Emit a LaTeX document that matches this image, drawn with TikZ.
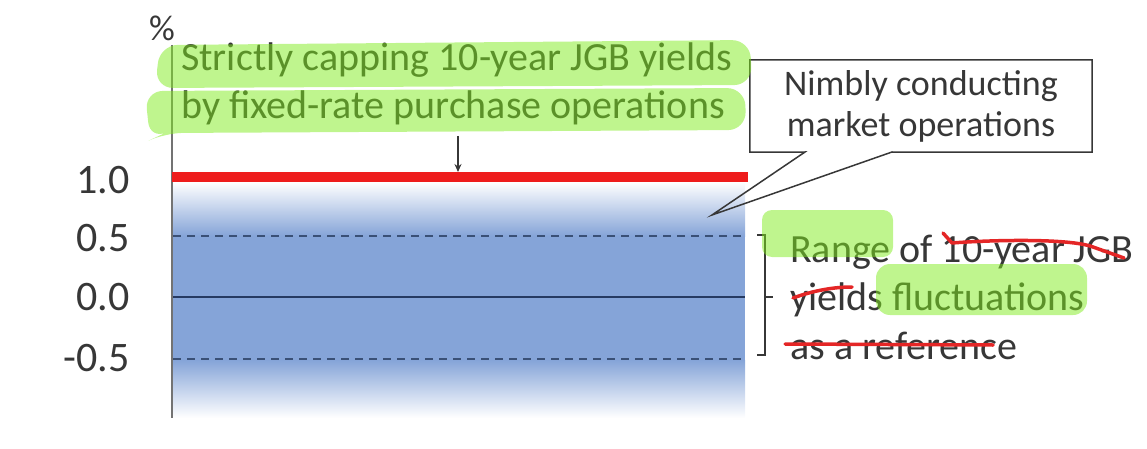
\documentclass[tikz,border=0pt]{standalone}
\usepackage{fontspec}
\setmainfont{Carlito}
\usetikzlibrary{arrows.meta,positioning}
\definecolor{bandblue}{RGB}{133,164,216}
\definecolor{dashblue}{RGB}{58,80,118}
\definecolor{zeroblue}{RGB}{38,58,98}
\definecolor{capred}{RGB}{238,28,28}
\definecolor{txtgray}{RGB}{55,55,55}
\definecolor{hlgreen}{RGB}{127,235,29}
\definecolor{penred}{RGB}{228,38,38}

\begin{document}
\begin{tikzpicture}[x=1pt,y=-1pt,
  lbl/.style={font=\fontsize{42}{46}\selectfont, text=txtgray, anchor=east, inner sep=0pt},
  txt/.style={font=\fontsize{40}{48.5}\selectfont, text=txtgray, align=left, inner sep=0pt},
  grid/.style={dashblue, line width=2.2pt, dash pattern=on 8pt off 6pt},
  hl/.style={fill=hlgreen, fill opacity=0.5, rounded corners=10pt},
  pen/.style={draw=penred, line width=3.5pt, line cap=round, line join=round},
  arr/.style={-{Stealth[length=8pt,width=7pt]}, line width=1.3pt, txtgray}
]
  \useasboundingbox (0,0) rectangle (1147,449);
  % band of yields
  \shade[top color=white, bottom color=bandblue] (173,182) rectangle (745,236);
  \fill[bandblue] (173,236) rectangle (745,360);
  \shade[top color=bandblue, bottom color=white] (173,360) rectangle (745,418);
  \coordinate (p5l) at (173,236);  \coordinate (p5r) at (745,236);
  \coordinate (z0l) at (173,297);  \coordinate (z0r) at (745,297);
  \coordinate (m5l) at (173,359);  \coordinate (m5r) at (745,359);
  \draw[grid] (p5l) -- (p5r);
  \draw[grid] (m5l) -- (m5r);
  \draw[zeroblue, line width=2pt] (z0l) -- (z0r);
  % axis and cap
  \coordinate (axtop) at (172,45);  \coordinate (axbot) at (172,418);
  \draw[black!55, line width=1.5pt] (axtop) -- (axbot);
  \coordinate (capl) at (172,177);  \coordinate (capr) at (748,177);
  \draw[capred, line width=9pt] (capl) -- (capr);
  \node[lbl] (l10) at (130,180) {1.0};
  \node[lbl] (l05) at (130,238) {0.5};
  \node[lbl] (l00) at (130,297) {0.0};
  \node[lbl] (lm05) at (130,358) {-0.5};
  \node[font=\fontsize{36}{38}\selectfont, text=txtgray, inner sep=0pt] (pct) at (162,28) {\%};
  % texts
  \node[txt, anchor=west] (capping) at (181,84) {Strictly capping 10-year JGB yields\\by fixed-rate purchase operations};
  \coordinate (arrtop) at (458,136);  \coordinate (arrend) at (458,172);
  \draw[arr] (arrtop) -- (arrend);
  \node[txt, align=center, font=\fontsize{36}{41}\selectfont, minimum width=342pt, minimum height=92pt] (nimbly) at (921,106) {Nimbly conducting\\market operations};
  \coordinate (pb1) at (805,152);  \coordinate (pb2) at (892,152);
  \coordinate (tip) at (712,215);
  \draw[txtgray, line width=1.5pt, line join=miter] (nimbly.south west) -- (nimbly.north west) -- (nimbly.north east) -- (nimbly.south east) -- (pb2) -- (tip) -- (pb1) -- cycle;
  \node[txt, anchor=west] (range) at (790,297) {Range of 10-year JGB\\yields fluctuations\\as a reference};
  \coordinate (brt) at (757,235);  \coordinate (brb) at (757,355);
  \draw[txtgray, line width=1.3pt] (brt) -- ++(8,0) |- (brb);
  \draw[txtgray, line width=1.3pt] (765,297) -- ++(8,0);
  % highlights
  \fill[hl, rounded corners=18pt] (160,45) -- (750,40) -- (752,85) -- (155,88) -- cycle;
  \fill[hl, rounded corners=18pt] (145,91) -- (745,88) -- (746,130) -- (165,133) -- (150,140) -- cycle;
  \fill[hl] (762,210) rectangle (893,257);
  \fill[hl, rounded corners=14pt] (876,264) rectangle (1087,315);
  % strike-throughs
  \draw[pen] (943,233) -- (952,243) .. controls (990,240) and (1070,238) .. (1093,247) -- (1124,258);
  \draw[pen] (793,298) .. controls (815,290) and (835,287) .. (852,287);
  \draw[pen] (785,344) -- (993,345);
\end{tikzpicture}
\end{document}
